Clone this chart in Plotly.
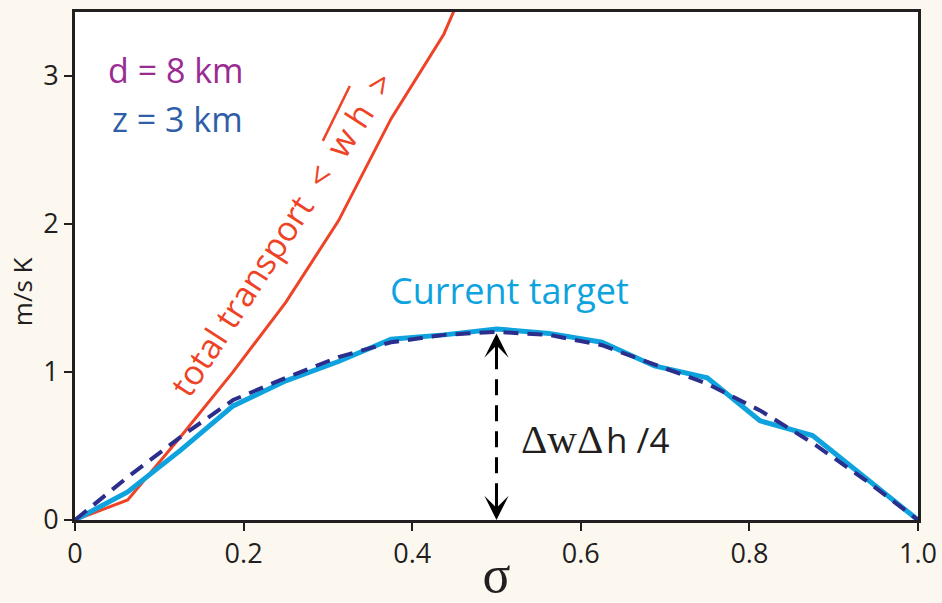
import plotly.graph_objects as go

# ---- data ----
sigma = [0, 0.0625, 0.125, 0.1875, 0.25, 0.3125, 0.375, 0.4375, 0.5, 0.5625,
         0.625, 0.6875, 0.75, 0.8125, 0.875, 0.9375, 1.0]
current_target = [0, 0.19, 0.47, 0.77, 0.94, 1.07, 1.22, 1.25, 1.29, 1.26,
                  1.20, 1.04, 0.96, 0.67, 0.57, 0.29, 0]
estimate = [0, 0.29, 0.56, 0.81, 0.96, 1.10, 1.20, 1.25, 1.27, 1.25,
            1.18, 1.05, 0.92, 0.74, 0.52, 0.27, 0]
sigma_total = [0, 0.0625, 0.125, 0.1875, 0.25, 0.3125, 0.375, 0.4375, 0.5]
total_transport = [0, 0.135, 0.56, 1.0, 1.47, 2.02, 2.71, 3.28, 4.1]

x_tickvals = [0, 0.2, 0.4, 0.6, 0.8, 1.0]
x_ticktext = ["0", "0.2", "0.4", "0.6", "0.8", "1.0"]
y_tickvals = [0, 1, 2, 3]
y_ticktext = ["0", "1", "2", "3"]

peak_sigma = 0.5
peak_value = 1.26

SANS = "Open Sans"
SERIF = "Liberation Serif"
INK = "#231f20"
RED = "#ee4326"
CYAN = "#0ea3de"
NAVY = "#2b2e8c"
PURPLE = "#9a2b92"
BLUE = "#2f5ea9"

fig = go.Figure()

fig.add_trace(go.Scatter(x=sigma_total, y=total_transport, mode="lines",
                         line=dict(color=RED, width=3), showlegend=False))
fig.add_trace(go.Scatter(x=sigma, y=current_target, mode="lines",
                         line=dict(color=CYAN, width=5), showlegend=False))
fig.add_trace(go.Scatter(x=sigma, y=estimate, mode="lines",
                         line=dict(color=NAVY, width=4, dash="15px,9px"),
                         showlegend=False))

# dashed double arrow for the peak height
fig.add_shape(type="line", x0=peak_sigma, x1=peak_sigma, y0=0.14, y1=peak_value - 0.14,
              line=dict(color="black", width=3, dash="16px,10px"))
fig.add_annotation(x=peak_sigma, y=peak_value, ax=0, ay=30, text="", showarrow=True,
                   arrowhead=3, arrowsize=1.35, arrowwidth=3, arrowcolor="black")
fig.add_annotation(x=peak_sigma, y=0, ax=0, ay=-30, text="", showarrow=True,
                   arrowhead=3, arrowsize=1.35, arrowwidth=3, arrowcolor="black")

# label: serif "ΔwΔ" + sans "h /4"
fig.add_annotation(x=0.629, y=0.545, xanchor="right", yanchor="middle",
                   text="ΔwΔ", showarrow=False,
                   font=dict(family=SERIF, size=41, color=INK))
fig.add_annotation(x=0.627, y=0.545, xanchor="left", yanchor="middle",
                   text="h /4", showarrow=False,
                   font=dict(family=SANS, size=35, color=INK))

fig.add_annotation(x=0.516, y=1.55, text="Current target", showarrow=False,
                   font=dict(family=SANS, size=36, color=CYAN))

fig.add_annotation(x=0.12, y=3.04, text="d = 8 km", showarrow=False,
                   font=dict(family=SANS, size=34, color=PURPLE))
fig.add_annotation(x=0.122, y=2.71, text="z = 3 km", showarrow=False,
                   font=dict(family=SANS, size=34, color=BLUE))

fig.add_annotation(x=0.245, y=1.93, textangle=-57,
                   text="total transport \u00a0&lt;\u00a0 w h \u00a0&gt;",
                   showarrow=False, font=dict(family=SANS, size=34, color=RED))
# overline above "w h"
fig.add_shape(type="line", x0=0.294, y0=2.56, x1=0.326, y1=2.93,
              line=dict(color=RED, width=2.5))

# y-axis title (placed as annotation to match its lowered position)
fig.add_annotation(xref="paper", yref="paper", x=-0.062, y=0.45, textangle=-90,
                   xanchor="center", yanchor="middle",
                   text="m/s K", showarrow=False,
                   font=dict(family=SANS, size=26, color=INK))

fig.update_layout(
    width=942, height=603,
    margin=dict(l=75, r=24, t=12, b=83),
    paper_bgcolor="#fcf8f0",
    plot_bgcolor="white",
    font=dict(family=SANS, color=INK),
)
fig.update_xaxes(range=[0, 1], tickvals=x_tickvals, ticktext=x_ticktext,
                 automargin=False,
                 showgrid=False, zeroline=False, showline=True, mirror=True,
                 linecolor=INK, linewidth=3, ticks="outside", ticklen=8,
                 tickwidth=2, tickcolor=INK, tickfont=dict(size=27, color=INK),
                 title=dict(text="σ", font=dict(family=SERIF, size=52, color=INK),
                            standoff=2))
fig.update_yaxes(range=[0, 3.43], tickvals=y_tickvals, ticktext=y_ticktext,
                 automargin=False,
                 showgrid=False, zeroline=False, showline=True, mirror=True,
                 linecolor=INK, linewidth=3, ticks="outside", ticklen=8,
                 tickwidth=2, tickcolor=INK, tickfont=dict(size=27, color=INK))

fig.write_html("out.html")
